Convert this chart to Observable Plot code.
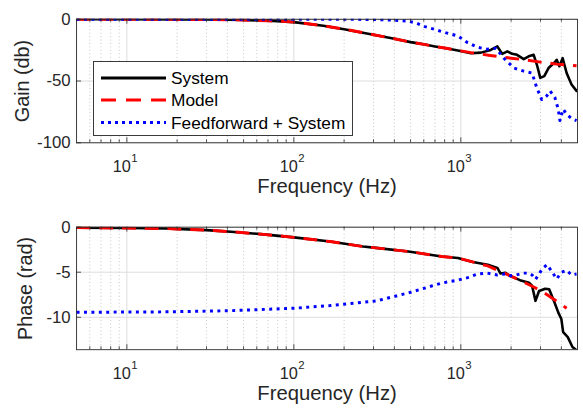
<!DOCTYPE html>
<html>
<head>
<meta charset="utf-8">
<script src="https://cdn.jsdelivr.net/npm/d3@7"></script>
<script src="https://cdn.jsdelivr.net/npm/@observablehq/plot@0.6"></script>
<style>
html, body { margin: 0; padding: 0; background: #fff; overflow: hidden; width: 583px; height: 414px; }
#wrap { position: relative; width: 583px; height: 414px; font-family: "Liberation Sans", Arial, sans-serif; }
#wrap svg.panel { position: absolute; left: 0; }
#legend { position: absolute; left: 93px; top: 61px; width: 260px; height: 75px; background: #fff; border: 1px solid #3a3a3a; box-sizing: border-box; }
</style>
</head>
<body>
<div id="wrap"></div>
<script>
// ---------- data ----------
const seriesNames = ["System", "Model", "Feedforward + System"];

// Gain (dB)
const sysGainFreq = [5,10,20,30,40,50,60,70,80,100,150,200,300,400,500,600,700,800,960,1150,1320,1510,1655,1770,1900,2030,2170,2380,2550,2730,2870,2990,3160,3350,3640,3750,3890,4070,4300,4600,4930];
const sysGain     = [0,0,-0.1,-0.2,-0.35,-0.6,-0.9,-1.2,-1.5,-2.3,-5.2,-8,-12.5,-15.8,-18.5,-20.3,-22,-23.3,-25.3,-27.5,-27,-24.8,-22,-28,-26,-28,-28.8,-32.3,-30,-28.8,-38,-47.5,-46,-39.5,-35,-32.8,-38,-31.5,-43.5,-52.8,-58];

const modelGainFreq = [5,10,20,30,40,50,60,70,80,100,150,200,300,400,500,600,700,800,1000,1150,1500,2000,2400,3000,3750,4930];
const modelGain     = [0,0,-0.1,-0.2,-0.35,-0.6,-0.9,-1.2,-1.5,-2.3,-5.2,-8,-12.5,-15.8,-18.5,-20.3,-22,-23.3,-25.6,-27,-29.3,-31.5,-32.8,-34.7,-36.3,-37.6];

const ffGainFreq = [5,100,200,300,360,420,485,540,610,690,770,870,960,1100,1260,1440,1620,1810,2080,2380,2670,2850,3050,3270,3420,3660,3830,3920,4100,4300,4600,4930];
const ffGain     = [0,0,0,-0.2,-0.5,-1,-1.6,-3,-6,-8,-10,-12,-13.5,-19,-22.7,-24.3,-23.5,-31.5,-39.5,-42,-43.5,-55.5,-65,-62,-58,-63.5,-72.8,-82,-72.8,-76.8,-80.3,-82];

// Phase (rad)
const sysPhaseFreq = [5,10,17,30,42,66,100,165,260,310,485,770,960,1180,1450,1655,1730,1850,1985,2260,2560,2670,2800,2940,3200,3380,3640,3830,4000,4100,4370,4660,4930];
const sysPhase     = [-0.05,-0.1,-0.15,-0.33,-0.5,-0.8,-1.13,-1.6,-2.15,-2.3,-2.7,-3.25,-3.43,-3.87,-4.16,-4.53,-5.15,-5.07,-5.44,-5.88,-6.17,-6.5,-8.18,-7.08,-6.83,-6.9,-8.36,-9.46,-10.2,-11.65,-12.2,-13.3,-13.65];

const modelPhaseFreq = [5,10,17,30,42,66,100,165,260,310,485,770,960,1450,2090,2420,2770,3140,3750,4300];
const modelPhase     = [-0.05,-0.1,-0.15,-0.33,-0.5,-0.8,-1.13,-1.6,-2.15,-2.3,-2.7,-3.25,-3.43,-4.3,-5.6,-6.17,-6.7,-7.26,-8.2,-9.0];

const ffPhaseFreq = [5,17,42,100,165,310,485,770,960,1100,1260,1440,1655,1850,1985,2150,2360,2560,2670,2800,2940,3080,3280,3500,3750,4000,4300,4600,4930];
const ffPhase     = [-9.45,-9.4,-9.27,-9.0,-8.7,-8.2,-7.3,-6.2,-5.88,-5.6,-5.2,-5.1,-5.3,-5.2,-5.4,-5.3,-5.1,-5.1,-5.3,-5.8,-5.2,-4.6,-4.16,-4.9,-5.75,-5.0,-4.8,-5.3,-5.2];

// axes
const freqDomain = [5, 5000];
const majorFreqTicks = [10, 100, 1000];
const minorFreqTicks = [6,7,8,9,20,30,40,50,60,70,80,90,200,300,400,500,600,700,800,900,2000,3000,4000];
const gainDomain = [-100, 0];
const gainTicks = [0, -50, -100];
const gainTickLabels = ["0", "-50", "-100"];
const phaseDomain = [-13.6, 0];
const phaseTicks = [0, -5, -10];
const phaseTickLabels = ["0", "-5", "-10"];
const xLabel = "Frequency (Hz)";
const gainLabel = "Gain (db)";
const phaseLabel = "Phase (rad)";

// ---------- build ----------
const toRows = (fs, vs) => fs.map((f, i) => ({f, v: vs[i]}));
const FONT = '"Liberation Sans", Arial, sans-serif';
const INK = "#262626";
const W = 590, ML = 77, MR = 6;

function panel({top, height, mt, mb, yDomain, yTicks, yTickLabels, yLabel, yLabelDx, sys, model, ff}) {
  const ph = height - mt - mb;
  const pw = W - ML - MR;
  const svg = Plot.plot({
    width: W, height,
    marginLeft: ML, marginRight: MR, marginTop: mt, marginBottom: mb,
    x: {type: "log", domain: freqDomain, axis: null},
    y: {domain: yDomain, axis: null},
    style: {fontFamily: FONT, fontSize: "17px", color: INK, background: "transparent", overflow: "visible"},
    marks: [
      Plot.ruleX(minorFreqTicks, {x: d => d, stroke: "#9a9a9a", strokeOpacity: 0.7, strokeWidth: 0.8, strokeDasharray: "1,2.5"}),
      Plot.ruleX(majorFreqTicks, {x: d => d, stroke: "#dcdcdc", strokeWidth: 1}),
      Plot.ruleY(yTicks, {y: d => d, stroke: "#dcdcdc", strokeWidth: 1}),
      Plot.line(sys, {x: "f", y: "v", stroke: "#000000", strokeWidth: 2.6, clip: true}),
      Plot.line(model, {x: "f", y: "v", stroke: "#ff0000", strokeWidth: 3, strokeDasharray: "14,9", strokeLinecap: "butt", clip: true}),
      Plot.line(ff, {x: "f", y: "v", stroke: "#0000ff", strokeWidth: 3, strokeDasharray: "3,4.5", strokeLinecap: "butt", clip: true}),
      Plot.frame({stroke: INK, strokeWidth: 0.9}),
      Plot.tickX(majorFreqTicks, {x: d => d, insetTop: ph - 5, stroke: INK, strokeWidth: 0.8}),
      Plot.tickX(minorFreqTicks, {x: d => d, insetTop: ph - 3, stroke: INK, strokeWidth: 0.8}),
      Plot.tickX(majorFreqTicks, {x: d => d, insetBottom: ph - 5, stroke: INK, strokeWidth: 0.8}),
      Plot.tickX(minorFreqTicks, {x: d => d, insetBottom: ph - 3, stroke: INK, strokeWidth: 0.8}),
      Plot.tickY(yTicks, {y: d => d, insetRight: pw - 5, stroke: INK, strokeWidth: 0.8}),
      Plot.text(yTicks, {y: d => d, text: (d, i) => yTickLabels[i], frameAnchor: "left", textAnchor: "end", dx: -6, fontSize: 17, fill: INK}),
      Plot.text(majorFreqTicks, {x: d => d, text: () => "10", frameAnchor: "bottom", lineAnchor: "bottom", textAnchor: "end", dx: 4, dy: 29.5, fontSize: 16.5, fill: INK}),
      Plot.text(majorFreqTicks, {x: d => d, text: d => String(Math.round(Math.log10(d))), frameAnchor: "bottom", lineAnchor: "bottom", textAnchor: "start", dx: 4.5, dy: 19.5, fontSize: 11.5, fill: INK}),
      Plot.text([xLabel], {text: d => d, frameAnchor: "bottom", lineAnchor: "bottom", textAnchor: "middle", dy: 51, fontSize: 20.5, fill: INK}),
      Plot.text([yLabel], {text: d => d, frameAnchor: "left", lineAnchor: "bottom", textAnchor: "middle", rotate: -90, dx: yLabelDx, fontSize: 20, fill: INK})
    ]
  });
  svg.classList.add("panel");
  svg.style.top = top + "px";
  return svg;
}

const wrap = document.getElementById("wrap");
wrap.appendChild(panel({
  top: 0, height: 200, mt: 19, mb: 56,
  yDomain: gainDomain, yTicks: gainTicks, yTickLabels: gainTickLabels,
  yLabel: gainLabel, yLabelDx: -48,
  sys: toRows(sysGainFreq, sysGain), model: toRows(modelGainFreq, modelGain), ff: toRows(ffGainFreq, ffGain)
}));
wrap.appendChild(panel({
  top: 200, height: 214, mt: 27, mb: 63,
  yDomain: phaseDomain, yTicks: phaseTicks, yTickLabels: phaseTickLabels,
  yLabel: phaseLabel, yLabelDx: -45,
  sys: toRows(sysPhaseFreq, sysPhase), model: toRows(modelPhaseFreq, modelPhase), ff: toRows(ffPhaseFreq, ffPhase)
}));

// legend (inside the gain panel)
const legend = document.createElement("div");
legend.id = "legend";
const styles = [
  {stroke: "#000000", dash: null},
  {stroke: "#ff0000", dash: "15,10"},
  {stroke: "#0000ff", dash: "3,4"}
];
const rowY = [16, 38, 60.5];
let inner = '<svg width="258" height="73" style="position:absolute;left:0;top:0;font-family:' + FONT.replace(/"/g, "'") + '">';
seriesNames.forEach((name, i) => {
  const s = styles[i];
  inner += `<line x1="7" x2="72" y1="${rowY[i]}" y2="${rowY[i]}" stroke="${s.stroke}" stroke-width="3"${s.dash ? ` stroke-dasharray="${s.dash}"` : ""}/>`;
  inner += `<text x="77" y="${rowY[i] + 6}" font-size="17.3" fill="#000">${name}</text>`;
});
inner += "</svg>";
legend.innerHTML = inner;
wrap.appendChild(legend);
</script>
</body>
</html>
